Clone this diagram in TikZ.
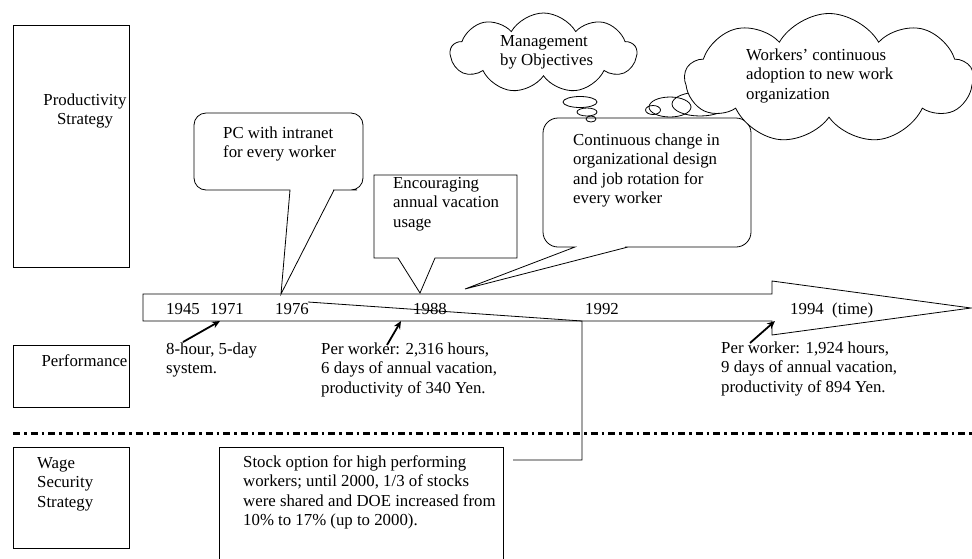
\documentclass[tikz,border=0pt]{standalone}
\usepackage{fontspec}
\setmainfont{Liberation Serif}
\usetikzlibrary{shapes.symbols,arrows.meta}
\begin{document}
\begin{tikzpicture}[x=1pt,y=-1pt,
  txt/.style={anchor=north west,inner sep=0pt,align=left,font=\fontsize{16.8}{19.5}\selectfont},
  ctxt/.style={anchor=north,inner sep=0pt,align=center,font=\fontsize{16.8}{19.5}\selectfont},
  box/.style={draw,line width=0.8pt,inner sep=0pt,anchor=north west},
  ln/.style={line width=0.8pt,line join=miter},
  ptr/.style={line width=1.8pt,-{Stealth[length=8pt,width=7pt]}},
  cloudy/.style={cloud,draw,fill=white,line width=0.8pt,cloud ignores aspect,inner sep=0pt,cloud puff arc=120},
  bub/.style={line width=0.8pt}
]
\useasboundingbox (0,0) rectangle (972,558);
\clip (0,0) rectangle (972,558);

% left column boxes
\node[box,minimum width=116pt,minimum height=242pt] (prodbox) at (13,25) {};
\node[ctxt] (prodtxt) at (85,91.4) {\strut Productivity\\Strategy};
\node[box,minimum width=116pt,minimum height=62pt] (perfbox) at (13,345) {};
\node[ctxt] (perftxt) at (84.5,352.4) {\strut Performance};
\node[box,minimum width=116pt,minimum height=101pt] (wagebox) at (13,447) {};
\node[txt] (wagetxt) at (37,454.4) {\strut Wage\\Security\\Strategy};

% dash-dot separator
\coordinate (dl) at (13,433);
\coordinate (dr) at (972,433);
\draw[line width=3pt,dash pattern=on 7pt off 4pt on 2.5pt off 4pt] (dl) -- (dr);

% stock option box
\node[box,minimum width=284pt,minimum height=130pt] (stockbox) at (219,447) {};
\node[txt] (stocktxt) at (243,453.4) {\strut Stock option for high performing\\workers; until 2000, 1/3 of stocks\\were shared and DOE increased from\\10\% to 17\% (up to 2000).};

% timeline block arrow
\draw[ln] (143,294) -- (772,294) -- (772,281) -- (971,308) -- (772,335) -- (772,321) -- (143,321) -- cycle;
\node[txt] (y1945) at (166,300.4) {\strut 1945};
\node[txt] (y1971) at (210,300.4) {\strut 1971};
\node[txt] (y1976) at (275,300.4) {\strut 1976};
\node[txt] (y1988) at (413,300.4) {\strut 1988};
\node[txt] (y1992) at (585,300.4) {\strut 1992};
\node[txt] (y1994) at (790,300.4) {\strut 1994\ \ (time)};

% performance texts
\node[txt] (perf1) at (166,340.4) {\strut 8-hour, 5-day\\system.};
\node[txt] (perf2) at (321,340.4) {\strut Per worker: 2,316 hours,\\6 days of annual vacation,\\productivity of 340 Yen.};
\node[txt] (perf3) at (721,339.4) {\strut Per worker: 1,924 hours,\\9 days of annual vacation,\\productivity of 894 Yen.};

% pointers
\coordinate (p1a) at (183,342); \coordinate (p1b) at (220,321);
\coordinate (p2a) at (387,345); \coordinate (p2b) at (401,321);
\coordinate (p3a) at (750,343); \coordinate (p3b) at (775,321);
\draw[ptr] (p1a) -- (p1b);
\draw[ptr] (p2a) -- (p2b);
\draw[ptr] (p3a) -- (p3b);

% stock connector
\coordinate (s1) at (513,460);
\coordinate (s2) at (582,460);
\coordinate (s3) at (582,321);
\coordinate (s4) at (308,302);
\draw[ln] (s1) -- (s2) -- (s3) -- (s4);

% PC callout
\coordinate (pctip) at (281,294);
\draw[ln] (334,190) -- (pctip) -- (290,190) -- (280,190) [rounded corners=12pt] -- (194,190) -- (194,113) -- (363,113) -- (363,190) -- (345,190) [sharp corners] -- (334,190);
\node[txt] (pctxt) at (223,124.4) {\strut PC with intranet\\for every worker};

% Encouraging callout
\coordinate (enctip) at (420,293);
\draw[ln] (398,258) -- (enctip) -- (435,258) -- (517,258) -- (517,175) -- (374,175) -- (374,258) -- cycle;
\node[txt] (enctxt) at (393,174.4) {\strut Encouraging\\annual vacation\\usage};

% Continuous callout
\coordinate (contip) at (465,289);
\draw[ln] (628,247) -- (contip) -- (575,247) -- (565,247) [rounded corners=15pt] -- (543,247) -- (543,118) -- (751,118) -- (751,247) -- (640,247) [sharp corners] -- (628,247);
\node[txt] (contxt) at (573,131.4) {\strut Continuous change in\\organizational design\\and job rotation for\\every worker};

% thought bubbles
\draw[bub] (580,102) ellipse [x radius=17pt, y radius=5.5pt];
\draw[bub] (587,112) ellipse [x radius=10pt, y radius=4pt];
\draw[bub] (591,119) ellipse [x radius=5pt, y radius=3pt];
\draw[bub] (653,110) ellipse [x radius=7.5pt, y radius=4.5pt];
\draw[bub] (670,107) ellipse [x radius=21pt, y radius=10pt];
\draw[bub] (700,104) ellipse [x radius=28pt, y radius=12pt];

% clouds
\node[cloudy,cloud puffs=9,minimum width=186pt,minimum height=80pt] (mbocloud) at (543.5,53) {};
\node[txt] (mbotxt) at (500,32.4) {\strut Management\\by Objectives};
\node[cloudy,cloud puffs=9,minimum width=288pt,minimum height=130pt] (wcloud) at (829,78.5) {};
\node[txt] (wtxt) at (746,46.4) {\strut Workers’ continuous\\adoption to new work\\organization};
\end{tikzpicture}
\end{document}
